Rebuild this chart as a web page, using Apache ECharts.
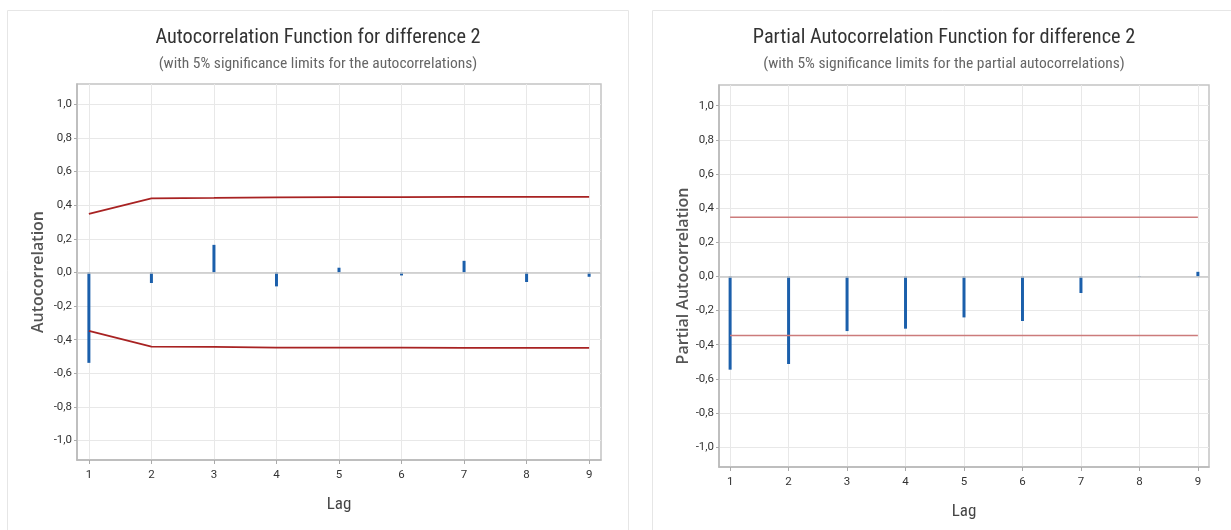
<!DOCTYPE html>
<html>
<head>
<meta charset="utf-8">
<script src="https://cdn.jsdelivr.net/npm/echarts@6/dist/echarts.min.js"></script>
<style>html,body{margin:0;padding:0;background:#fff}#c{width:1231px;height:530px}</style>
</head>
<body>
<div id="c"></div>
<script>
const lags = [1, 2, 3, 4, 5, 6, 7, 8, 9];
const acf = [-0.538, -0.063, 0.164, -0.083, 0.028, -0.018, 0.069, -0.057, -0.026];
const acfLimit = [0.348, 0.441, 0.443, 0.447, 0.448, 0.448, 0.449, 0.449, 0.449];
const pacf = [-0.546, -0.513, -0.320, -0.306, -0.240, -0.261, -0.097, -0.003, 0.027];
const pacfLimit = [0.346, 0.346, 0.346, 0.346, 0.346, 0.346, 0.346, 0.346, 0.346];
const yTicks = [-1.0, -0.8, -0.6, -0.4, -0.2, 0.0, 0.2, 0.4, 0.6, 0.8, 1.0];

const titles = ['Autocorrelation Function for difference 2', 'Partial Autocorrelation Function for difference 2'];
const subtitles = ['(with 5% significance limits for the autocorrelations)', '(with 5% significance limits for the partial autocorrelations)'];
const yNames = ['Autocorrelation', 'Partial Autocorrelation'];
const xName = 'Lag';

const narrow = "'Liberation Sans Narrow', 'Roboto Condensed', 'Roboto', sans-serif";
const fmt = v => v.toFixed(1).replace('.', ',');
const pairs = (xs, ys) => xs.map((x, i) => [x, ys[i]]);
const neg = arr => arr.map(v => -v);

function xAxis(gi) {
  return {
    type: 'value', gridIndex: gi, min: 0.81, max: 9.19,
    name: xName, nameLocation: 'middle', nameGap: 36,
    nameTextStyle: { fontFamily: narrow, fontSize: 17, color: '#444' },
    axisLine: { show: true, onZero: false, lineStyle: { color: '#b8b8b8', width: 1.5 } },
    axisTick: { show: true, length: 4, customValues: lags, lineStyle: { color: '#aaa' } },
    axisLabel: { customValues: lags, margin: 9, fontFamily: 'Roboto', fontSize: 11.5, color: '#333' },
    splitLine: { show: true, lineStyle: { color: '#e8e8e8', width: 1 } }
  };
}
function yAxis(gi, gap) {
  return {
    type: 'value', gridIndex: gi, min: -1.116, max: 1.121,
    name: yNames[gi], nameLocation: 'middle', nameGap: gap,
    nameTextStyle: { fontFamily: 'Open Sans', fontSize: 16, fontWeight: 600, color: '#555' },
    axisLine: { show: true, lineStyle: { color: '#b8b8b8', width: 1.5 } },
    axisTick: { show: true, length: 3, customValues: yTicks, lineStyle: { color: '#aaa' } },
    axisLabel: { customValues: yTicks, margin: 5, fontFamily: 'Roboto', fontSize: 11.5, color: '#333', formatter: fmt },
    splitLine: { show: true, lineStyle: { color: '#e8e8e8', width: 1 } }
  };
}
function zeroLine(color) {
  return { silent: true, symbol: ['none', 'none'], label: { show: false },
    lineStyle: { color: color, width: 1.5, type: 'solid' }, data: [{ yAxis: 0 }] };
}

const chart = echarts.init(document.getElementById('c'));
chart.setOption({
  animation: false,
  backgroundColor: '#fff',
  graphic: [
    { type: 'rect', silent: true, z: -10, shape: { x: 7.5, y: 10.5, width: 621, height: 540 }, style: { fill: 'none', stroke: '#e6e6e6', lineWidth: 1 } },
    { type: 'rect', silent: true, z: -10, shape: { x: 652.5, y: 10.5, width: 600, height: 540 }, style: { fill: 'none', stroke: '#e6e6e6', lineWidth: 1 } }
  ],
  title: [0, 1].map(i => ({
    text: titles[i], subtext: subtitles[i],
    left: i === 0 ? 318 : 944, top: 28, padding: 0, itemGap: 8, textAlign: 'center',
    textStyle: { fontFamily: narrow, fontSize: 20.3, fontWeight: 'normal', color: '#333' },
    subtextStyle: { fontFamily: narrow, fontSize: 15.5, color: '#666' }
  })),
  grid: [
    { left: 77, right: 630, top: 84, bottom: 70, show: true, borderColor: '#c4c4c4', borderWidth: 1.5 },
    { left: 719, right: 22, top: 85, bottom: 63, show: true, borderColor: '#c4c4c4', borderWidth: 1.5 }
  ],
  xAxis: [xAxis(0), xAxis(1)],
  yAxis: [yAxis(0, 31), yAxis(1, 28)],
  series: [
    { type: 'bar', xAxisIndex: 0, yAxisIndex: 0, barWidth: 3, itemStyle: { color: '#1b5fab' },
      data: pairs(lags, acf), markLine: zeroLine('#c8c8c8'), z: 3 },
    { type: 'line', xAxisIndex: 0, yAxisIndex: 0, showSymbol: false, symbol: 'none',
      lineStyle: { color: '#a82222', width: 1.8 }, data: pairs(lags, acfLimit), z: 4 },
    { type: 'line', xAxisIndex: 0, yAxisIndex: 0, showSymbol: false, symbol: 'none',
      lineStyle: { color: '#a82222', width: 1.8 }, data: pairs(lags, neg(acfLimit)), z: 4 },
    { type: 'bar', xAxisIndex: 1, yAxisIndex: 1, barWidth: 3, itemStyle: { color: '#1b5fab' },
      data: pairs(lags, pacf), markLine: zeroLine('#c8c8c8'), z: 3 },
    { type: 'line', xAxisIndex: 1, yAxisIndex: 1, showSymbol: false, symbol: 'none',
      lineStyle: { color: '#cc7b7b', width: 1.5 }, data: pairs(lags, pacfLimit), z: 4 },
    { type: 'line', xAxisIndex: 1, yAxisIndex: 1, showSymbol: false, symbol: 'none',
      lineStyle: { color: '#cc7b7b', width: 1.5 }, data: pairs(lags, neg(pacfLimit)), z: 4 }
  ]
});
</script>
</body>
</html>
